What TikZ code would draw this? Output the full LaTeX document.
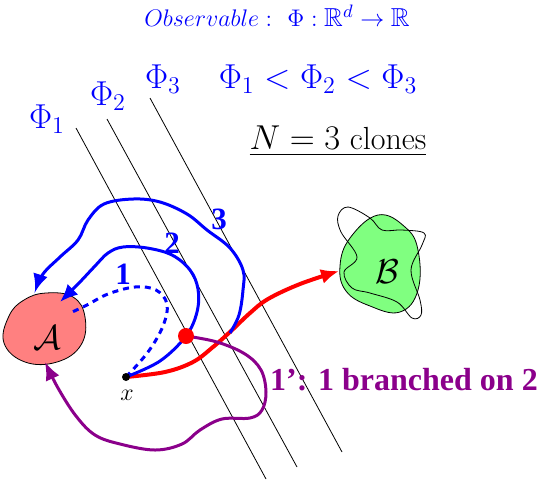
\documentclass[tikz,border=0pt]{standalone}
\usepackage{amssymb}
\usepackage{fontspec}
\newfontfamily\tnr{Liberation Serif}
\usetikzlibrary{arrows.meta}
\definecolor{pblue}{RGB}{0,0,255}
\definecolor{pred}{RGB}{255,0,0}
\definecolor{ppurp}{RGB}{139,0,139}
\definecolor{psalmon}{RGB}{255,128,128}
\definecolor{pgreen}{RGB}{128,255,128}
\tikzset{
  level/.style={draw=black, line width=0.4pt},
  bluepath/.style={draw=pblue, line width=1.5pt},
  arrtip/.style={-{Latex[length=9pt,width=7.5pt]}},
  numlab/.style={text=pblue, font=\tnr\bfseries\fontsize{15.5}{18}\selectfont, inner sep=0pt},
  philab/.style={text=pblue, font=\fontsize{16.5}{19}\selectfont, inner sep=0pt},
}
\begin{document}
\begin{tikzpicture}[x=0.5pt,y=-0.5pt]
\useasboundingbox (0,0) rectangle (545,484);
% level lines
\coordinate (l1a) at (76,128); \coordinate (l1b) at (266,479);
\coordinate (l2a) at (107,119); \coordinate (l2b) at (297,467);
\coordinate (l3a) at (150,98); \coordinate (l3b) at (342,452);
\draw[level] (l1a) -- (l1b);
\draw[level] (l2a) -- (l2b);
\draw[level] (l3a) -- (l3b);
% texts
\node[text=pblue, font=\fontsize{13}{15}\selectfont, inner sep=0pt] (title) at (277,16) {$Observable:\ \Phi:\mathbb{R}^d\rightarrow\mathbb{R}$};
\node[philab] (p1) at (47,119) {$\Phi_1$};
\node[philab] (p2) at (108,96) {$\Phi_2$};
\node[philab] (p3) at (163,79) {$\Phi_3$};
\node[philab] (ord) at (318,79) {$\Phi_1<\Phi_2<\Phi_3$};
\node[font=\fontsize{16}{19}\selectfont, inner sep=0pt] (clones) at (338,141) {\underline{$N=3\ \mathrm{clones}$}};
% set A
\draw[fill=psalmon, line width=0.4pt] plot[smooth cycle, tension=0.7] coordinates {(46,293) (73,297) (85,317) (81,345) (57,362) (25,362) (4,343) (9,316) (24,300)};
\node[font=\fontsize{16}{19}\selectfont, inner sep=0pt] (A) at (47,338) {$\mathcal{A}$};
% set B
\draw[fill=pgreen, line width=0.4pt] plot[smooth cycle, tension=0.7] coordinates {(378,215) (405,227) (418,250) (418,290) (400,312) (370,306) (346,291) (340,266) (350,238)};
\draw[line width=0.4pt] plot[smooth cycle, tension=0.6] coordinates {(338,216) (348,207) (370,218) (382,230) (402,230) (424,233) (422,245) (411,270) (420,300) (421,315) (412,318) (397,302) (370,293) (352,288) (344,272) (357,257) (341,232)};
\node[font=\fontsize{17}{20}\selectfont, inner sep=0pt] (B) at (387,272) {$\mathcal{B}$};
% start point
\coordinate (x) at (126,377);
\coordinate (rd) at (186,336);
% red path
\draw[draw=pred, line width=2pt, arrtip] plot[smooth, tension=0.6] coordinates {(x) (165,372) (193,362) (213,347) (231,331) (250,313) (268,299) (300,284) (339,271)};
% purple path
\draw[draw=ppurp, line width=1.5pt, arrtip] plot[smooth, tension=0.6] coordinates {(rd) (217,342) (245,354) (261,370) (266,392) (262,410) (250,418) (222,419) (200,430) (182,444) (155,450) (120,444) (95,435) (76,416) (58,388) (45,362)};
% dashed 1
\draw[bluepath, dash pattern=on 3pt off 2.5pt] plot[smooth, tension=0.6] coordinates {(x) (148,352) (163,326) (167,304) (156,290) (135,287) (108,294) (87,305) (70,313)};
% path 2
\draw[bluepath, arrtip] plot[smooth, tension=0.6] coordinates {(x) (160,361) (rd) (197,312) (198,289) (190,270) (172,255) (147,248) (123,247) (108,253) (95,266) (79,283) (60,302)};
% path 3
\draw[bluepath, arrtip] plot[smooth, tension=0.6] coordinates {(230,333) (239,315) (243,290) (243,270) (230,248) (207,230) (187,214) (160,202) (133,199) (104,204) (88,220) (78,240) (60,257) (43,274) (35,292)};
% dots
\fill[pred] (rd) circle[radius=8];
\fill[black] (x) circle[radius=4];
\node[font=\fontsize{13}{15}\selectfont, inner sep=0pt] (xl) at (127,395) {$x$};
% number labels
\node[numlab] (n1) at (123,274) {1};
\node[numlab] (n2) at (172,243) {2};
\node[numlab] (n3) at (219,219) {3};
\node[text=ppurp, font=\tnr\bfseries\fontsize{16}{19}\selectfont, inner sep=0pt] (br) at (404,380) {1’: 1 branched on 2};
\end{tikzpicture}
\end{document}
